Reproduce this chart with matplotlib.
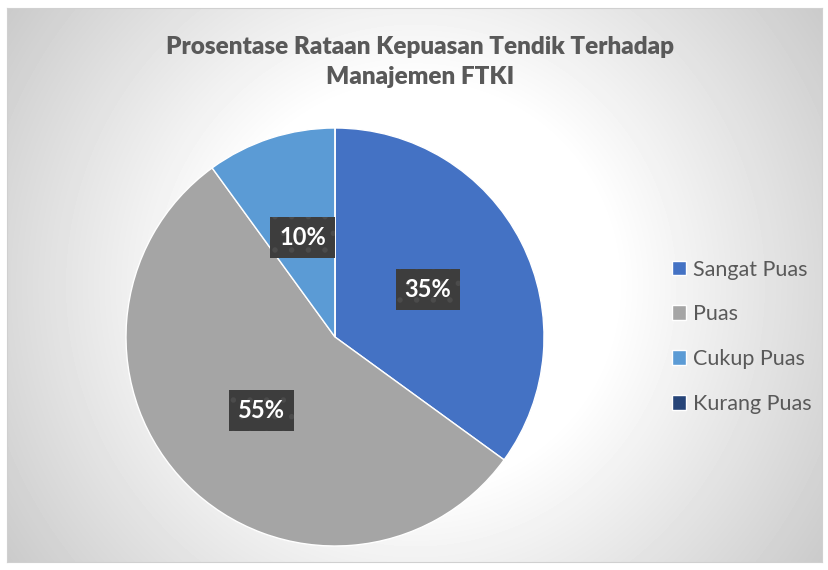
import numpy as np
import matplotlib.pyplot as plt

# ---------------------------------
# Data
# ---------------------------------
categories = ['Sangat Puas', 'Puas', 'Cukup Puas', 'Kurang Puas']
values = [35, 55, 10, 0]
colors = ['#4472C4', '#A5A5A5', '#5B9BD5', '#264478']
title = 'Prosentase Rataan Kepuasan Tendik Terhadap\nManajemen FTKI'

plt.rcParams['font.family'] = ['Lato', 'DejaVu Sans']
plt.rcParams['hatch.linewidth'] = 1.5

W, H = 829, 570
fig = plt.figure(figsize=(W / 100, H / 100), dpi=100)
fig.patch.set_facecolor('white')

# ---------------------------------
# Chart area with radial gradient background
# ---------------------------------
x0, y0, x1, y1 = 7, 8, 822, 562
bg = fig.add_axes([x0 / W, 1 - y1 / H, (x1 - x0) / W, (y1 - y0) / H])
gx, gy = np.meshgrid(np.arange(x0, x1), np.arange(y0, y1))
d = np.hypot(gx - 415, gy - 285)
shade = 255 - 0.18 * np.clip(d - 200, 0, None)
shade = np.clip(shade, 190, 255) / 255.0
bg.imshow(shade, cmap='gray', vmin=0, vmax=1, aspect='auto',
          extent=[0, 1, 0, 1], interpolation='bilinear')
bg.set_xticks([])
bg.set_yticks([])
for s in bg.spines.values():
    s.set_color('#d0d0d0')
    s.set_linewidth(0.8)

# ---------------------------------
# Pie
# ---------------------------------
cx, cy, r = 335, 337, 209
ax = fig.add_axes([(cx - r) / W, 1 - (cy + r) / H, 2 * r / W, 2 * r / H])
ax.set_facecolor('none')

def fmt(p):
    return f'{p:.0f}%' if p > 0.5 else ''

wedges, texts, autotexts = ax.pie(values, colors=colors, startangle=90,
                                  counterclock=False, autopct=fmt,
                                  pctdistance=0.5,
                                  wedgeprops=dict(edgecolor='white', linewidth=1.0))
ax.set_xlim(-1, 1)
ax.set_ylim(-1, 1)

for t in autotexts:
    if t.get_text():
        t.set_color('white')
        t.set_fontsize(17)
        t.set_fontweight('bold')
        t.set_bbox(dict(boxstyle='square,pad=0.38', fc='#3d3d3d',
                        ec='#4b4b4b', lw=0, hatch='.'))

# ---------------------------------
# Title and legend
# ---------------------------------
fig.text(420 / W, 1 - 62 / H, title, ha='center', va='center',
         fontsize=17.5, fontweight='heavy', color='#595959', linespacing=1.4)

leg = fig.legend(wedges, categories, loc='upper left',
                 bbox_to_anchor=(663 / W, 1 - 251 / H), frameon=False,
                 fontsize=15.5, labelcolor='#595959', handlelength=0.68,
                 handleheight=0.68, handletextpad=0.32, labelspacing=1.15,
                 borderaxespad=0)

fig.savefig('out.png', dpi=100)
